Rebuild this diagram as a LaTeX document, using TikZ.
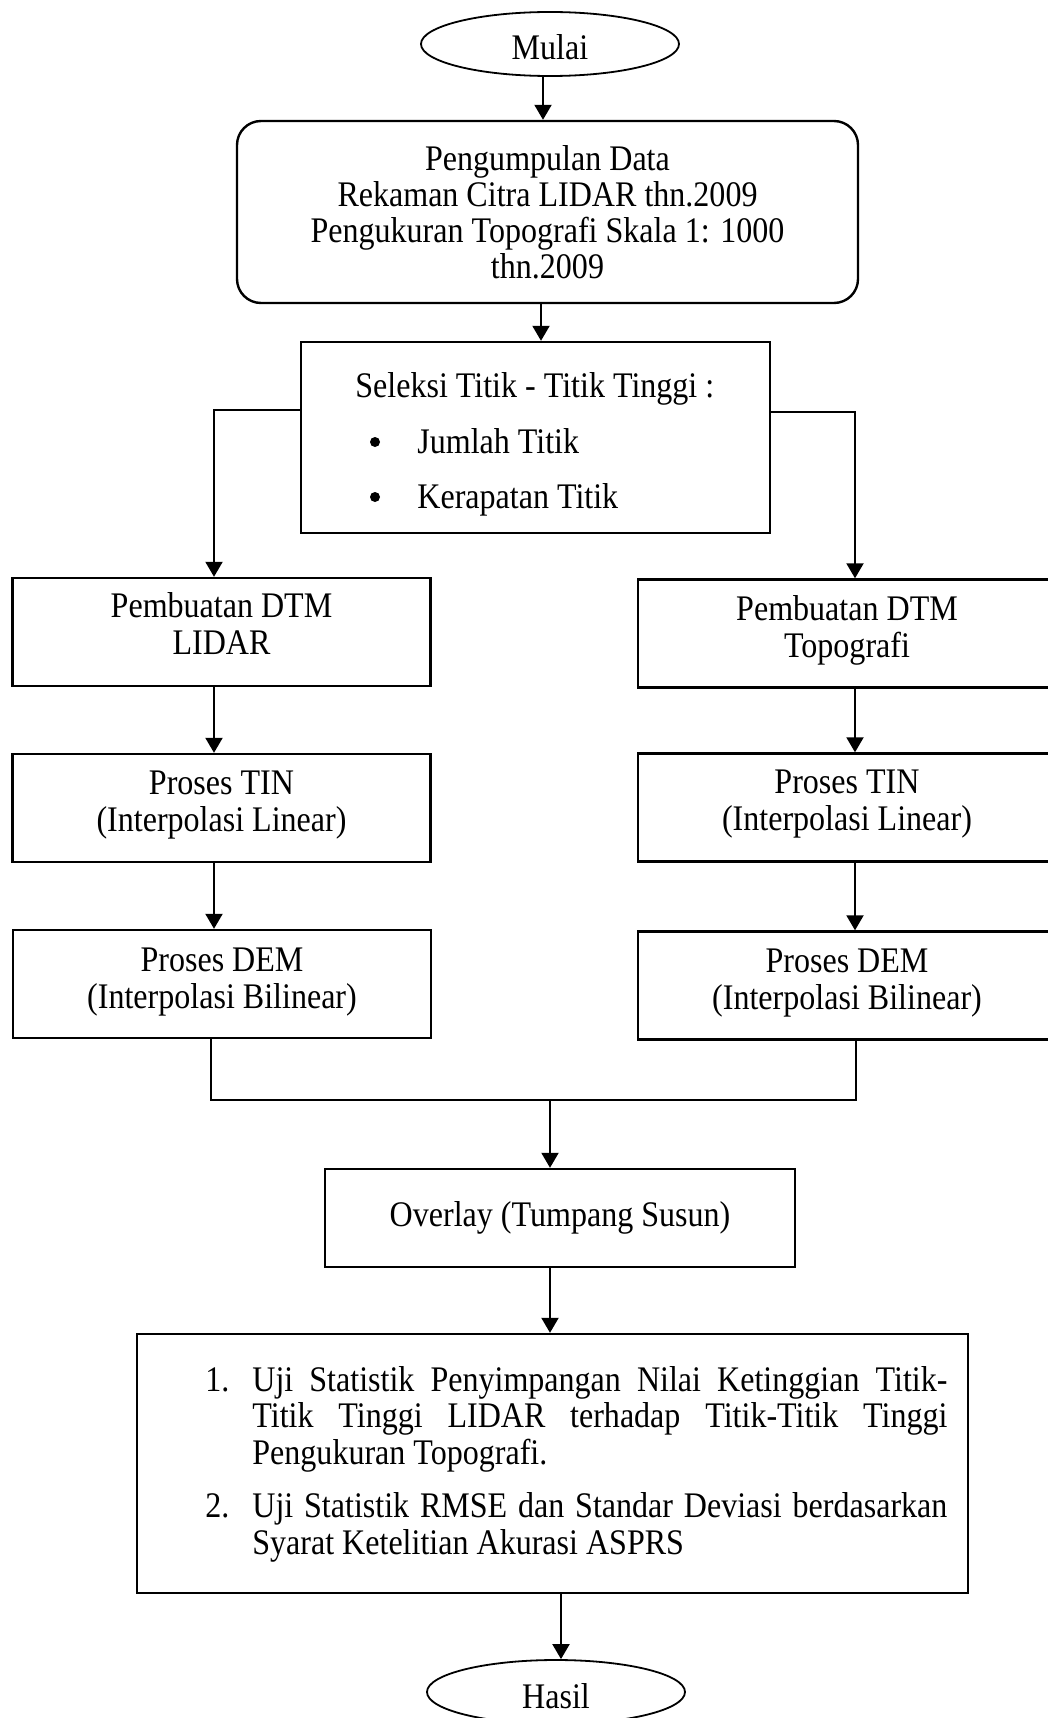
\documentclass[tikz,border=0pt]{standalone}
\usepackage{fontspec}
\setmainfont{Liberation Serif}[FakeStretch=0.89]
\usetikzlibrary{arrows.meta,shapes.geometric}
\begin{document}
\begin{tikzpicture}[x=0.5pt,y=-0.5pt,
  every node/.style={font=\fontsize{18}{18}\selectfont},
  box/.style={draw,line width=1.2pt,inner sep=0pt},
  term/.style={draw,ellipse,line width=0.9pt,inner sep=0pt,minimum width=129pt,minimum height=32pt},
  colbox/.style={box,minimum width=209pt,minimum height=54pt},
  coltext/.style={align=center,inner sep=0pt,font=\fontsize{18}{18.5}\selectfont},
  conn/.style={line width=1pt},
  arr/.style={conn,-{Triangle[width=8.5pt,length=7.5pt]}},
  txt/.style={anchor=base west,inner sep=0pt},
  dot/.style={circle,fill,inner sep=0pt,minimum size=5pt},
]
\useasboundingbox[fill=white] (0,0) rectangle (1048,1718);

% x positions of connectors
\coordinate (xS) at (543,0);
\coordinate (xD) at (541,0);
\coordinate (xL) at (214,0);
\coordinate (xR) at (855,0);
\coordinate (xH) at (561,0);
\coordinate (mrg) at (550,1100);
\coordinate (mA) at (211,1100);
\coordinate (mB) at (856,1100);

% terminals
\node[term] (start) at (550,44) {};
\node[inner sep=0pt] (startT) at ([yshift=-1.6pt]start.center) {Mulai};
\node[term] (hasil) at (556,1692) {};
\node[inner sep=0pt] (hasilT) at ([yshift=-2.2pt]hasil.center) {Hasil};

% data collection
\node[box,rounded corners=12pt,minimum width=310.5pt,minimum height=91pt,align=center]
  (data) at (547.5,212)
  {Pengumpulan Data\\Rekaman Citra LIDAR thn.2009\\Pengukuran Topografi Skala 1: 1000\\thn.2009};

% selection
\node[box,minimum width=234.5pt,minimum height=95.5pt] (sel) at (535.5,437.5) {};
\node[txt] (selT) at (355,397) {Seleksi Titik - Titik Tinggi :};
\node[dot] (bulA) at (375,442) {};
\node[txt] (selA) at (417,453) {Jumlah Titik};
\node[dot] (bulB) at (375,497) {};
\node[txt] (selB) at (417,508) {Kerapatan Titik};

% left column
\node[colbox] (dtmL) at (221.5,632) {};
\node[coltext] (dtmLt) at ([yshift=4pt]dtmL.center) {Pembuatan DTM\\LIDAR};
\node[colbox] (tinL) at (221.5,808) {};
\node[coltext] (tinLt) at ([yshift=1.5pt]tinL.center) {Proses TIN\\(Interpolasi Linear)};
\node[colbox] (demL) at (222,984) {};
\node[coltext] (demLt) at ([yshift=1pt]demL.center) {Proses DEM\\(Interpolasi Bilinear)};

% right column
\node[colbox] (dtmR) at (847,633.5) {};
\node[coltext] (dtmRt) at ([yshift=1.75pt]dtmR.center) {Pembuatan DTM\\Topografi};
\node[colbox] (tinR) at (847,807.5) {};
\node[coltext] (tinRt) at ([yshift=1.5pt]tinR.center) {Proses TIN\\(Interpolasi Linear)};
\node[colbox] (demR) at (847,985.5) {};
\node[coltext] (demRt) at ([yshift=1pt]demR.center) {Proses DEM\\(Interpolasi Bilinear)};

% overlay
\node[box,minimum width=235pt,minimum height=49pt] (ovl) at (560,1218) {Overlay (Tumpang Susun)};

% final statistics box
\node[box,minimum width=415.5pt,minimum height=129.5pt] (fin) at (552.5,1463.5) {};
\node[anchor=base west,inner sep=0pt,text width=371pt,align=justify,
      font=\fontsize{18}{18.4}\selectfont] (finT) at (205,1391)
  {\tolerance=9999\hyphenpenalty=10000\hangindent=23.5pt\hangafter=1\noindent\makebox[23.5pt][l]{1.}Uji Statistik Penyimpangan Nilai Ketinggian Titik-\linebreak Titik Tinggi LIDAR terhadap Titik-Titik Tinggi\linebreak Pengukuran Topografi.\par
   \vspace{8pt}\hangindent=23.5pt\hangafter=1\noindent\makebox[23.5pt][l]{2.}Uji Statistik RMSE dan Standar Deviasi berdasarkan\linebreak Syarat Ketelitian Akurasi ASPRS\par};

% connectors
\draw[arr] (start.south -| xS) -- (data.north -| xS);
\draw[arr] (data.south -| xD) -- (sel.north -| xD);
\draw[arr] ([yshift=13.75pt]sel.west) -| (dtmL.north -| xL);
\draw[arr] ([yshift=12.75pt]sel.east) -| (dtmR.north -| xR);
\draw[arr] (dtmL.south -| xL) -- (tinL.north -| xL);
\draw[arr] (tinL.south -| xL) -- (demL.north -| xL);
\draw[arr] (dtmR.south -| xR) -- (tinR.north -| xR);
\draw[arr] (tinR.south -| xR) -- (demR.north -| xR);
\draw[conn] (demL.south -| mA) -- (mA) -- (mB) -- (demR.south -| mB);
\draw[arr] (mrg) -- (ovl.north -| mrg);
\draw[arr] (ovl.south -| mrg) -- (fin.north -| mrg);
\draw[arr] (fin.south -| xH) -- (hasil.north -| xH);
\end{tikzpicture}
\end{document}
